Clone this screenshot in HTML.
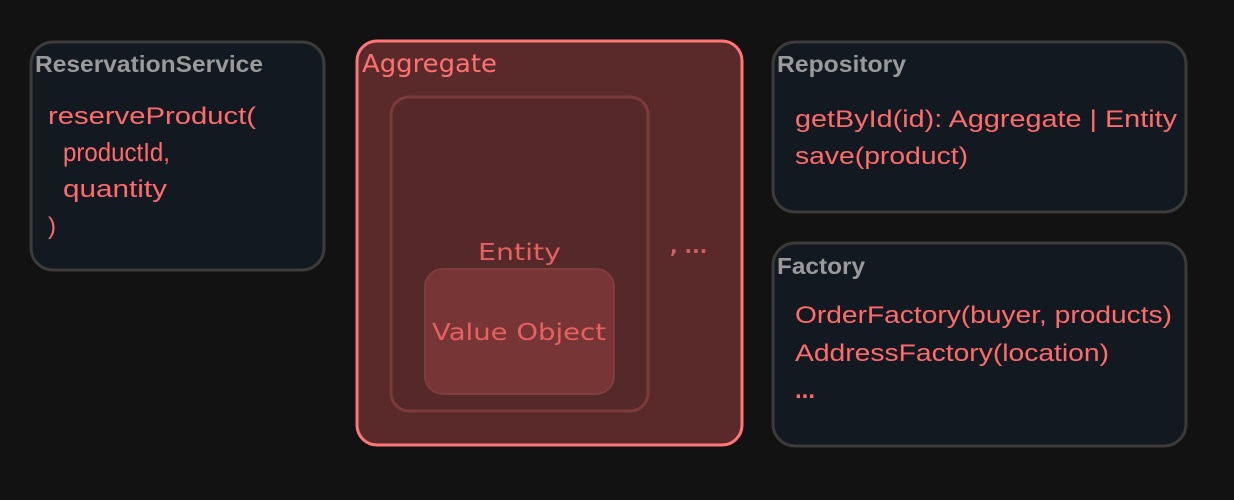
<!DOCTYPE html>
<html><head><meta charset="utf-8"><style>
html,body{margin:0;padding:0;background:#121212;}
svg{display:block}
</style></head><body>
<svg width="1234" height="500" xmlns="http://www.w3.org/2000/svg">
<rect width="1234" height="500" fill="#121212"/>
<g stroke="#3b3b3b" stroke-width="3" fill="#131920">
<rect x="31" y="42" width="293" height="228" rx="22"/>
<rect x="773" y="42" width="413" height="170" rx="22"/>
<rect x="773" y="243" width="413" height="203" rx="22"/>
</g>
<rect x="357" y="41" width="385" height="404" rx="20" fill="#5a2a2b" stroke="#ff7676" stroke-width="3"/>
<rect x="391" y="97" width="257" height="314" rx="18" fill="#552829" stroke="#7c3a3b" stroke-width="3"/>
<rect x="425" y="269" width="189" height="125" rx="18" fill="#783536" stroke="#7f3d3e" stroke-width="2"/>
<g font-family="Liberation Sans, sans-serif" font-weight="bold" fill="#9a9a9a" font-size="23">
<text x="35" y="72" textLength="228" lengthAdjust="spacingAndGlyphs">ReservationService</text>
<text x="777" y="72" textLength="129" lengthAdjust="spacingAndGlyphs">Repository</text>
<text x="777" y="274" textLength="88" lengthAdjust="spacingAndGlyphs">Factory</text>
</g>
<g font-family="Liberation Sans, sans-serif" fill="#ff6b6b" font-size="24">
<text x="48" y="124" textLength="208" lengthAdjust="spacingAndGlyphs">reserveProduct(</text>
<text x="63" y="161" font-size="26" textLength="107" lengthAdjust="spacingAndGlyphs">productId,</text>
<text x="63" y="197" textLength="104" lengthAdjust="spacingAndGlyphs">quantity</text>
<text x="48" y="234">)</text>
<text x="795" y="127" textLength="382" lengthAdjust="spacingAndGlyphs">getById(id): Aggregate | Entity</text>
<text x="795" y="164" textLength="173" lengthAdjust="spacingAndGlyphs">save(product)</text>
<text x="795" y="323" textLength="377" lengthAdjust="spacingAndGlyphs">OrderFactory(buyer, products)</text>
<text x="795" y="361" textLength="314" lengthAdjust="spacingAndGlyphs">AddressFactory(location)</text>
<text x="795" y="398" font-weight="bold">...</text>
</g>
<g font-family="DejaVu Sans, sans-serif" fill="#ff6b6b">
<text x="362" y="72" font-size="25" textLength="135" lengthAdjust="spacingAndGlyphs" fill="#ff7070">Aggregate</text>
<text x="478" y="260" font-size="23" textLength="83" lengthAdjust="spacingAndGlyphs" fill="#e86060">Entity</text>
<text x="432" y="340" font-size="23" textLength="174" lengthAdjust="spacingAndGlyphs" fill="#e86060">Value Object</text>
<text x="670" y="253" font-size="20" font-weight="bold" fill="#d06060">, ...</text>
</g>
</svg>
</body></html>
